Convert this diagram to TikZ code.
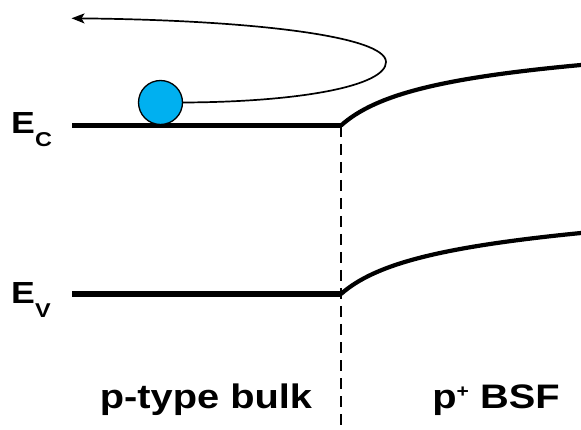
\documentclass[tikz,border=0pt]{standalone}
\usepackage{fontspec}
\setmainfont{Liberation Sans}[FakeStretch=1.17]
\usetikzlibrary{arrows.meta}
\definecolor{ballblue}{RGB}{0,176,240}
\begin{document}
\begin{tikzpicture}[x=1pt,y=-1pt,
  level/.style={line width=5.5pt},
  band/.style={line width=4.2pt},
  label/.style={anchor=base west,inner sep=0pt,font=\fontsize{30.5}{30}\selectfont\bfseries},
  region/.style={anchor=base,inner sep=0pt,font=\fontsize{34}{34}\selectfont\bfseries}]
\useasboundingbox (0,0) rectangle (581,430);
% coordinates
\coordinate (ecL) at (72,125.5);
\coordinate (ecR) at (341,125.5);
\coordinate (ecE) at (581,65);
\coordinate (evL) at (72,294);
\coordinate (evR) at (341,294);
\coordinate (evE) at (581,233);
\coordinate (dtop) at (341,126);
\coordinate (dbot) at (341,430);
\coordinate (tip) at (71.5,18.3);
% levels
\draw[level] (ecL) -- (ecR);
\draw[level] (evL) -- (evR);
\draw[band] (ecR) .. controls (375,95) and (440,78) .. (ecE);
\draw[band] (evR) .. controls (375,264) and (440,247) .. (evE);
\draw[line width=2.5pt,dash pattern=on 11pt off 7pt] (dtop) -- (dbot);
% electron
\node[circle,draw=black,line width=1.3pt,fill=ballblue,minimum size=44pt,inner sep=0pt] (ball) at (160.5,102.5) {};
\draw[line width=1.7pt,-{Stealth[length=13pt,width=10pt,inset=3pt]}] (ball.east) .. controls (300,102) and (386,86) .. (386,62) .. controls (386,36) and (250,20) .. (tip);
% labels
\node[label] (ec) at (11,134) {E\raisebox{-13pt}{\fontsize{20}{20}\selectfont C}};
\node[label] (ev) at (11,304) {E\raisebox{-14pt}{\fontsize{20}{20}\selectfont V}};
\node[region] (bulk) at (206,408) {p-type bulk};
\node[region] (bsf) at (496,408) {p\raisebox{11pt}{\fontsize{18}{18}\selectfont +} BSF};
\end{tikzpicture}
\end{document}
